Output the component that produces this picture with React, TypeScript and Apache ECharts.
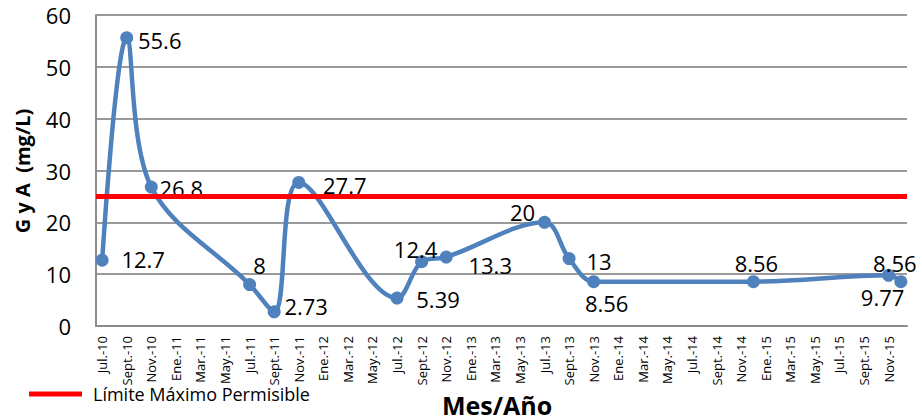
import React, { useEffect, useRef } from "react";
import * as echarts from "echarts";

// Month slots on the date axis (Jul.-10 … Dic.-15)
const monthNames = ["Jul.", "Ago.", "Sept.", "Oct.", "Nov.", "Dic.", "Ene.", "Feb.", "Mar.", "Abr.", "May.", "Jun."];
const axisStartYear = 10;
const axisMonthCount = 66;

// Sampling dates and measured grease & oil (G y A), mg/L
const sampleDates = [
  "Jul.-10", "Sept.-10", "Nov.-10", "Jul.-11", "Sept.-11", "Nov.-11",
  "Jul.-12", "Sept.-12", "Nov.-12", "Jul.-13", "Sept.-13", "Nov.-13",
  "Dic.-14", "Nov.-15", "Dic.-15",
];
const gyaValues = [12.7, 55.6, 26.8, 8, 2.73, 27.7, 5.39, 12.4, 13.3, 20, 13, 8.56, 8.56, 9.77, 8.56];

// Label placement around each point (dx, dy from the marker centre)
const labelOffsets: [number, number][] = [
  [41, -1], [33, 2], [30, 1], [10, -20], [32, -6], [46, 3],
  [41, 1], [-6, -13], [44, 8], [-22, -10], [30, 2], [13, 21],
  [3, -19], [-6, 22], [-6, -19],
];

const limitName = "Límite Máximo Permisible";
const limitValue = 25;

const yTicks = [0, 10, 20, 30, 40, 50, 60];

const FONT = "'Open Sans', 'Noto Sans', sans-serif";

function buildMonths(): string[] {
  const out: string[] = [];
  for (let i = 0; i < axisMonthCount; i++) {
    const yr = axisStartYear + Math.floor((i + 6) / 12);
    out.push(`${monthNames[i % 12]}-${yr}`);
  }
  return out;
}

export default function App() {
  const ref = useRef<HTMLDivElement>(null);

  useEffect(() => {
    if (!ref.current) return;
    const chart = echarts.init(ref.current, undefined, { renderer: "svg" });
    const months = buildMonths();

    const points = sampleDates.map((d, i) => ({
      value: [d, gyaValues[i]],
      label: { offset: labelOffsets[i] },
    }));

    chart.setOption({
      animation: false,
      backgroundColor: "#ffffff",
      textStyle: { fontFamily: FONT },
      grid: { left: 96, right: 15, top: 15, bottom: 90 },
      xAxis: {
        type: "category",
        data: months,
        boundaryGap: true,
        axisLine: { show: true, lineStyle: { color: "#8c8c8c", width: 2 } },
        axisTick: { show: false },
        axisLabel: {
          interval: 1,
          rotate: 90,
          fontSize: 13,
          margin: 10,
          color: "#000",
          fontFamily: FONT,
        },
        splitLine: { show: false },
      },
      yAxis: {
        type: "value",
        min: yTicks[0],
        max: yTicks[yTicks.length - 1],
        interval: 10,
        axisLine: { show: true, lineStyle: { color: "#8c8c8c", width: 2 } },
        axisTick: { show: false },
        axisLabel: { fontSize: 22, color: "#000", margin: 25, fontFamily: FONT },
        splitLine: { show: true, lineStyle: { color: "#9a9a9a", width: 2 } },
      },
      legend: {
        show: true,
        data: [limitName],
        left: 24,
        top: 380,
        icon: "rect",
        itemWidth: 53,
        itemHeight: 5,
        textStyle: { fontSize: 18, color: "#000", fontFamily: FONT, padding: [0, 0, 0, 6] },
      },
      series: [
        {
          name: "G y A",
          type: "line",
          smooth: 0.35,
          showAllSymbol: true,
          data: points,
          symbol: "circle",
          symbolSize: 13,
          lineStyle: { color: "#4F81BD", width: 4.5 },
          itemStyle: { color: "#4F81BD" },
          label: {
            show: true,
            position: "inside",
            align: "center",
            verticalAlign: "middle",
            fontSize: 22,
            color: "#000",
            fontFamily: FONT,
            textBorderWidth: 0,
          },
          z: 2,
        },
        {
          name: limitName,
          type: "line",
          data: [],
          itemStyle: { color: "#FF0000" },
          lineStyle: { color: "#FF0000", width: 5 },
          markLine: {
            silent: true,
            symbol: "none",
            label: { show: false },
            lineStyle: { color: "#FF0000", width: 5, type: "solid" },
            data: [{ yAxis: limitValue }],
          },
          z: 5,
        },
      ],
      graphic: [
        {
          type: "text",
          left: 442,
          top: 392,
          style: { text: "Mes/Año", fill: "#000", font: `bold 25px ${FONT}` },
        },
        {
          type: "text",
          x: 22,
          y: 171,
          rotation: Math.PI / 2,
          style: {
            text: "G y A  (mg/L)",
            align: "center",
            verticalAlign: "middle",
            font: `bold 20px ${FONT}`,
            fill: "#000",
          },
        },
      ],
    });

    return () => chart.dispose();
  }, []);

  return (
    <div
      ref={ref}
      style={{ position: "fixed", left: 0, top: 0, width: 922, height: 416 }}
    />
  );
}
